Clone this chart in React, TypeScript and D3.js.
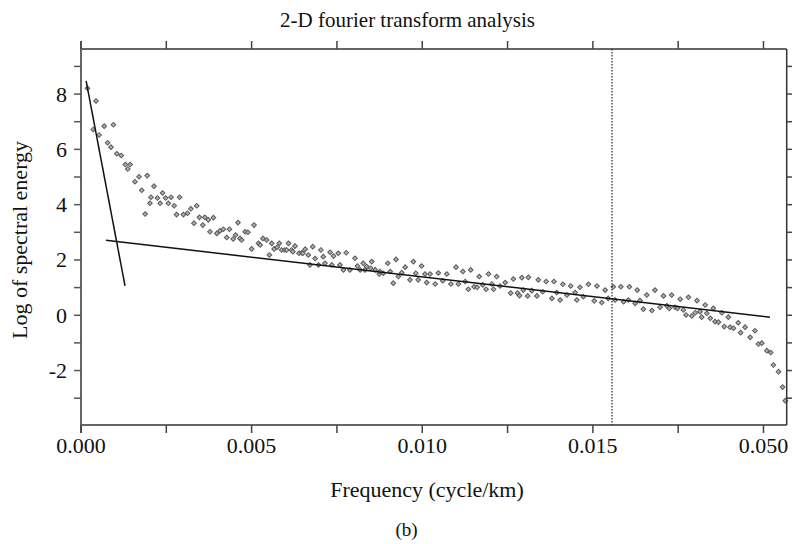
import React from "react";
import * as d3 from "d3";

const freq: number[] = [
  0.00019, 0.00036, 0.00044, 0.00053, 0.00068, 0.00078, 0.00088, 0.00095, 0.00105, 0.00118,
  0.0013, 0.00137, 0.00144, 0.00158, 0.0017, 0.00178, 0.00188, 0.00194, 0.00202, 0.00205,
  0.00214, 0.00224, 0.00232, 0.00239, 0.00248, 0.00256, 0.00264, 0.00273, 0.0028, 0.00289,
  0.003, 0.00312, 0.00322, 0.00331, 0.00339, 0.00347, 0.00357, 0.00363, 0.00373, 0.00378,
  0.00388, 0.00398, 0.00407, 0.00417, 0.00427, 0.00435, 0.00446, 0.00453, 0.0046, 0.00466,
  0.00471, 0.00481, 0.00489, 0.005, 0.00507, 0.0052, 0.00525, 0.00533, 0.00544, 0.00552,
  0.00559, 0.00566, 0.00575, 0.00581, 0.00588, 0.00597, 0.00603, 0.00608, 0.00617, 0.00621,
  0.00627, 0.00639, 0.00647, 0.0065, 0.00657, 0.00666, 0.00671, 0.00679, 0.00686, 0.00696,
  0.00703, 0.0071, 0.00715, 0.0073, 0.00735, 0.0074, 0.00754, 0.00759, 0.00769, 0.00777,
  0.00788, 0.00803, 0.0081, 0.00818, 0.00827, 0.00832, 0.00837, 0.00849, 0.00852, 0.00862,
  0.00874, 0.00876, 0.00886, 0.00899, 0.00906, 0.00915, 0.00923, 0.0093, 0.0094, 0.0095,
  0.00964, 0.00974, 0.00981, 0.00988, 0.00998, 0.01008, 0.01013, 0.01023, 0.01038, 0.01047,
  0.0106, 0.01072, 0.01084, 0.01099, 0.01106, 0.01119, 0.01126, 0.01135, 0.01142, 0.01152,
  0.01161, 0.01167, 0.01177, 0.01187, 0.01194, 0.01204, 0.01209, 0.01218, 0.01228, 0.01243,
  0.01259, 0.01267, 0.01279, 0.01285, 0.01292, 0.01296, 0.01309, 0.01311, 0.01321, 0.01336,
  0.0134, 0.01353, 0.01363, 0.0138, 0.01386, 0.01394, 0.01404, 0.01412, 0.01424, 0.01435,
  0.01448, 0.01453, 0.01462, 0.01472, 0.01487, 0.01504, 0.01512, 0.01526, 0.01536, 0.01545,
  0.0156, 0.01565, 0.01582, 0.0159, 0.01604, 0.01607, 0.01624, 0.0163, 0.01638, 0.01648,
  0.01658, 0.01673, 0.01682, 0.01697, 0.01707, 0.01717, 0.01724, 0.01731, 0.01741, 0.01748,
  0.01756, 0.01765, 0.01773, 0.0178, 0.0179, 0.018, 0.01805, 0.01814, 0.01819, 0.01829,
  0.01834, 0.01844, 0.01853, 0.01858, 0.01868, 0.01878, 0.01885, 0.01897, 0.01902, 0.01912,
  0.01926, 0.01933, 0.01946, 0.01961, 0.01975, 0.01985, 0.01995, 0.0201, 0.02021, 0.02029,
  0.02044, 0.02056, 0.02064,
];

const logEnergy: number[] = [
  8.21, 6.72, 7.75, 6.52, 6.84, 6.24, 6.08, 6.89, 5.84, 5.78,
  5.45, 5.29, 5.45, 4.83, 5.01, 4.52, 3.66, 5.05, 4.05, 4.27,
  4.67, 4.24, 4.05, 4.42, 4.24, 4.05, 4.27, 3.96, 3.64, 4.27,
  3.64, 3.69, 3.85, 3.33, 3.96, 3.54, 3.26, 3.54, 3.45, 3.02,
  3.53, 2.96, 3.05, 3.11, 2.81, 3.11, 2.76, 2.9, 3.35, 2.78,
  2.72, 3.02, 3.0, 2.4, 3.26, 2.6, 2.54, 2.78, 2.72, 2.18,
  2.6, 2.4, 2.46, 2.6, 2.36, 2.36, 2.36, 2.6, 2.36, 2.3,
  2.5, 2.24, 2.26, 2.24, 2.39, 2.18, 1.82, 2.48, 2.05, 1.82,
  2.36, 2.12, 1.88, 2.28, 1.82, 2.14, 2.24, 1.82, 1.64, 2.26,
  1.64, 2.06, 1.78, 1.64, 1.88, 1.64, 1.76, 1.7, 1.94, 1.64,
  1.49, 1.58, 1.52, 1.88, 1.58, 1.16, 2.02, 1.4, 1.54, 1.74,
  1.28, 1.94, 1.52, 1.28, 1.78, 1.49, 1.18, 1.49, 1.13, 1.53,
  1.25, 1.49, 1.13, 1.74, 1.13, 1.58, 1.22, 0.94, 1.64, 1.03,
  1.01, 1.4, 1.1, 0.94, 1.49, 1.13, 0.94, 1.4, 1.06, 1.18,
  0.8, 1.31, 0.8, 0.71, 1.36, 0.91, 0.7, 1.37, 0.89, 0.7,
  1.28, 0.85, 1.22, 0.61, 1.22, 0.82, 0.55, 1.12, 0.73, 1.06,
  0.82, 0.55, 1.01, 0.67, 1.12, 0.52, 1.06, 0.46, 0.91, 0.61,
  1.03, 0.55, 1.03, 0.49, 0.55, 1.03, 0.43, 0.91, 0.53, 0.22,
  0.73, 0.17, 0.91, 0.29, 0.7, 0.34, 0.25, 0.73, 0.29, 0.25,
  0.58, 0.19, 0.01, 0.65, -0.03, 0.09, 0.53, 0.13, -0.07, 0.37,
  0.07, -0.11, 0.25, -0.23, -0.25, 0.09, -0.41, -0.07, -0.43, -0.47,
  -0.27, -0.63, -0.43, -0.8, -0.56, -1.04, -1.01, -1.28, -1.35, -1.8,
  -2.04, -2.6, -3.09,
];

// fitted straight lines: [freq, logEnergy] endpoints
const steepFit: [number, number][] = [
  [0.00015, 8.48],
  [0.00129, 1.06],
];
const shallowFit: [number, number][] = [
  [0.00073, 2.71],
  [0.02019, -0.07],
];
const cutoffFreq = 0.01556;

const xMajorTicks = [0, 0.005, 0.01, 0.015, 0.02];
const xTickLabels = ["0.000", "0.005", "0.010", "0.015", "0.050"];
const xMinorTicks = [0.0025, 0.0075, 0.0125, 0.0175];
const yTicks = [-3, -2, -1, 0, 1, 2, 3, 4, 5, 6, 7, 8, 9];
const yLabelTicks = [-2, 0, 2, 4, 6, 8];

const W = 792;
const H = 544;
const L = 81;
const R = 786.7;
const T = 49;
const B = 425;
const FONT = "'Liberation Serif', 'Times New Roman', serif";

export default function App() {
  const x = d3.scaleLinear().domain([0, 0.02068]).range([L, R]);
  const y = d3.scaleLinear().domain([-3.97, 9.63]).range([B, T]);
  const line = d3
    .line<[number, number]>()
    .x((d) => x(d[0]))
    .y((d) => y(d[1]));
  const marker = d3.symbol().type(d3.symbolSquare).size(11)() as string;
  const tickLen = 8;

  return (
    <svg
      width={W}
      height={H}
      viewBox={`0 0 ${W} ${H}`}
      style={{ position: "absolute", left: 0, top: 0, background: "#fff" }}
      fontFamily={FONT}
    >
      <rect x={0} y={0} width={W} height={H} fill="#fff" />
      {/* title */}
      <text x={407.5} y={27} textAnchor="middle" fontSize={21} fill="#111">
        2-D fourier transform analysis
      </text>

      {/* points */}
      <g>
        {freq.map((f, i) => (
          <path
            key={i}
            d={marker}
            transform={`translate(${x(f)},${y(logEnergy[i])}) rotate(45)`}
            fill="#b0b0b0"
            stroke="#5a5a5a"
            strokeWidth={1}
          />
        ))}
      </g>

      {/* cutoff dotted line */}
      <line
        x1={x(cutoffFreq)}
        x2={x(cutoffFreq)}
        y1={T}
        y2={B}
        stroke="#222"
        strokeWidth={1.2}
        strokeDasharray="1.5,1.5"
      />

      {/* fitted lines */}
      <path d={line(steepFit) as string} fill="none" stroke="#111" strokeWidth={1.5} />
      <path d={line(shallowFit) as string} fill="none" stroke="#111" strokeWidth={1.5} />

      {/* frame */}
      <line x1={L} x2={R} y1={T} y2={T} stroke="#333" strokeWidth={1.5} />
      <line x1={L} x2={R} y1={B} y2={B} stroke="#333" strokeWidth={1.5} />
      <line x1={R} x2={R} y1={T} y2={B} stroke="#333" strokeWidth={1.5} />
      <line x1={L} x2={L} y1={T - tickLen} y2={B + tickLen} stroke="#666" strokeWidth={2} />

      {/* x ticks */}
      {[...xMajorTicks, ...xMinorTicks].map((t, i) => (
        <g key={`xt${i}`}>
          <line x1={x(t)} x2={x(t)} y1={B} y2={B + tickLen} stroke="#444" strokeWidth={1.5} />
          <line x1={x(t)} x2={x(t)} y1={T} y2={T - tickLen} stroke="#444" strokeWidth={1.5} />
        </g>
      ))}
      {xMajorTicks.map((t, i) => (
        <text key={`xl${i}`} x={x(t)} y={453} textAnchor="middle" fontSize={22} fill="#111">
          {xTickLabels[i]}
        </text>
      ))}

      {/* y ticks */}
      {yTicks.map((t, i) => (
        <g key={`yt${i}`}>
          <line x1={L - 7} x2={L} y1={y(t)} y2={y(t)} stroke="#555" strokeWidth={1.5} />
          <line x1={R} x2={R + 7} y1={y(t)} y2={y(t)} stroke="#444" strokeWidth={1.5} />
        </g>
      ))}
      {yLabelTicks.map((t, i) => (
        <text
          key={`yl${i}`}
          x={67}
          y={y(t)}
          dy="0.34em"
          textAnchor="end"
          fontSize={22}
          fill="#111"
        >
          {t}
        </text>
      ))}

      {/* axis titles */}
      <text
        transform={`translate(27,240) rotate(-90)`}
        textAnchor="middle"
        fontSize={22}
        fill="#111"
      >
        Log of spectral energy
      </text>
      <text x={427} y={497} textAnchor="middle" fontSize={22} fill="#111">
        Frequency (cycle/km)
      </text>
      <text x={406.5} y={536} textAnchor="middle" fontSize={19} fill="#111">
        (b)
      </text>
    </svg>
  );
}
